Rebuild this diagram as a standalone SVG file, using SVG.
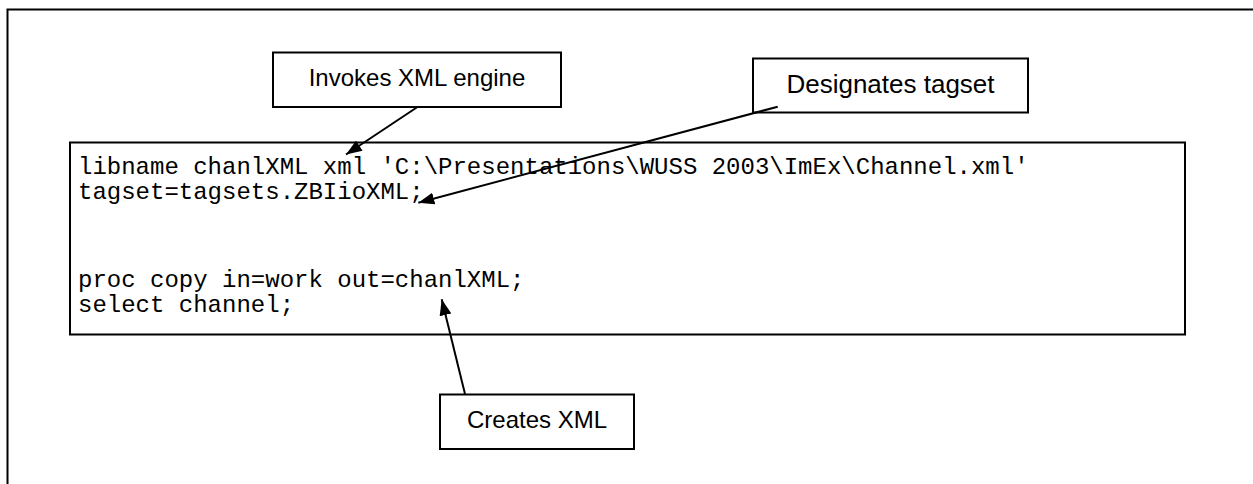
<svg xmlns="http://www.w3.org/2000/svg" width="1253" height="484" viewBox="0 0 1253 484">
<style>
.box{fill:#fff;stroke:#000;stroke-width:2}
.lbl{font-family:"Liberation Sans",Arial,sans-serif;font-size:24px;fill:#000;text-anchor:middle}
.code{font-family:"Liberation Mono","Courier New",monospace;font-size:24px;fill:#000}
.conn{stroke:#000;stroke-width:2;fill:none;marker-end:url(#ah)}
</style>
<defs>
<marker id="ah" markerUnits="userSpaceOnUse" markerWidth="17" markerHeight="13" refX="16" refY="6" orient="auto">
<path d="M0,0 L16,6 L0,12 z" fill="#000"/>
</marker>
</defs>
<rect x="7.5" y="9.5" width="1260" height="490" fill="none" stroke="#000" stroke-width="2"/>
<g id="code">
<rect class="box" x="70" y="142.5" width="1115" height="192"/>
<text class="code" x="78" y="174">libname chanlXML xml 'C:\Presentations\WUSS 2003\ImEx\Channel.xml'</text>
<text class="code" x="78" y="199">tagset=tagsets.ZBIioXML;</text>
<text class="code" x="78" y="287">proc copy in=work out=chanlXML;</text>
<text class="code" x="78" y="312">select channel;</text>
</g>
<g id="invokes">
<rect class="box" x="273" y="52.5" width="288" height="54.5"/>
<text class="lbl" x="417" y="86">Invokes XML engine</text>
</g>
<g id="designates">
<rect class="box" x="753" y="58.5" width="275" height="54"/>
<text class="lbl" x="890.5" y="93" style="font-size:26px">Designates tagset</text>
</g>
<g id="creates">
<rect class="box" x="440" y="394.5" width="194" height="54.5"/>
<text class="lbl" x="537" y="428">Creates XML</text>
</g>
<g id="connectors">
<line class="conn" x1="416.7" y1="107.5" x2="346" y2="154.5"/>
<line class="conn" x1="777.7" y1="106.7" x2="418.3" y2="202.7"/>
<line class="conn" x1="465" y1="394" x2="441.7" y2="299.3"/>
</g>
</svg>
